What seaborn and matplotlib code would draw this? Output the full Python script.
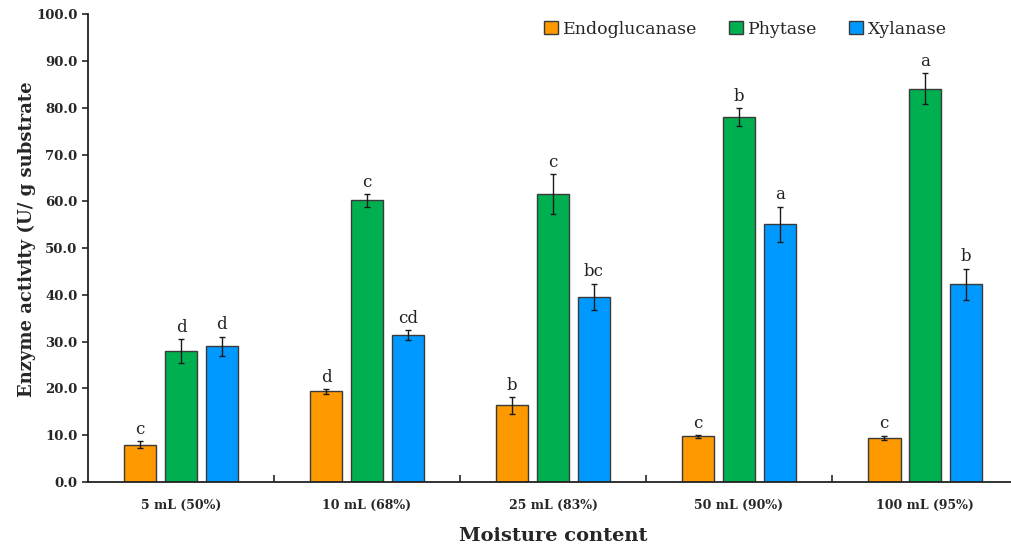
import numpy as np
import pandas as pd
import matplotlib
matplotlib.use('Agg')
import matplotlib.pyplot as plt
import seaborn as sns

# Data (mean, error, significance letter)
moisture = ['5 mL (50%)', '10 mL (68%)', '25 mL (83%)', '50 mL (90%)', '100 mL (95%)']
enzymes = ['Endoglucanase', 'Phytase', 'Xylanase']

endo_mean = [8.0, 19.4, 16.4, 9.8, 9.4]
endo_err = [0.8, 0.5, 1.8, 0.3, 0.5]
endo_sig = ['c', 'd', 'b', 'c', 'c']

phy_mean = [28.0, 60.2, 61.6, 78.0, 84.1]
phy_err = [2.6, 1.3, 4.2, 1.9, 3.3]
phy_sig = ['d', 'c', 'c', 'b', 'a']

xyl_mean = [29.0, 31.4, 39.6, 55.1, 42.3]
xyl_err = [2.1, 1.0, 2.8, 3.8, 3.3]
xyl_sig = ['d', 'cd', 'bc', 'a', 'b']

colors = ['#FF9900', '#00B050', '#0099FF']

means = [endo_mean, phy_mean, xyl_mean]
errs = [endo_err, phy_err, xyl_err]
sigs = [endo_sig, phy_sig, xyl_sig]

rows = []
for name, m in zip(enzymes, means):
    for cat, v in zip(moisture, m):
        rows.append({'moisture': cat, 'enzyme': name, 'activity': v})
df = pd.DataFrame(rows)

sns.set_style('ticks')
plt.rcParams['font.family'] = ['DejaVu Serif']

fig = plt.figure(figsize=(10.11, 5.49), dpi=100)
ax = fig.add_axes([0.087, 0.122, 0.92, 0.852])

sns.barplot(
    data=df, x='moisture', y='activity', hue='enzyme',
    order=moisture, hue_order=enzymes, palette=colors,
    width=0.66, gap=0.2, edgecolor='#3a3a3a', linewidth=1.0,
    errorbar=None, saturation=1, ax=ax,
)

# copy first: errorbar() appends its own containers
bar_conts = list(ax.containers)
for i, cont in enumerate(bar_conts):
    xs = [b.get_x() + b.get_width() / 2 for b in cont]
    ax.errorbar(xs, means[i], yerr=errs[i], fmt='none', ecolor='#1a1a1a',
                elinewidth=1.0, capsize=2.5, capthick=1.0, zorder=5)
    for x, m, e, s in zip(xs, means[i], errs[i], sigs[i]):
        ax.text(x, m + e + 0.7, s, ha='center', va='bottom', fontsize=12,
                color='#222222')

ax.set_xlim(-0.5, 4.5)
ax.set_ylim(0, 100)
ax.set_yticks(np.arange(0, 101, 10))
ax.set_yticklabels([f'{v:.1f}' for v in np.arange(0, 101, 10)],
                   fontweight='bold', fontsize=9.5)
ax.tick_params(axis='y', direction='out', length=4, width=1.2)
ax.tick_params(axis='x', which='major', length=0, pad=12)
for lab in ax.get_xticklabels():
    lab.set_fontweight('bold')
    lab.set_fontsize(9)
ax.set_xticks(np.arange(0.5, 4.0, 1.0), minor=True)
ax.tick_params(axis='x', which='minor', direction='in', length=5, width=1.2)

ax.set_xlabel('Moisture content', fontweight='bold', fontsize=14, labelpad=11)
ax.set_ylabel('Enzyme activity (U/ g substrate', fontweight='bold',
              fontsize=13)
ax.yaxis.set_label_coords(-0.056, 0.52)

sns.despine(ax=ax)
for sp in ['left', 'bottom']:
    ax.spines[sp].set_linewidth(1.3)
    ax.spines[sp].set_color('#222222')

ax.legend(loc='upper center', bbox_to_anchor=(0.707, 1.02), ncol=3,
          frameon=False, fontsize=12.5, handlelength=0.8, handleheight=0.8,
          handletextpad=0.3, columnspacing=1.8)

fig.savefig('out.png', dpi=100)
